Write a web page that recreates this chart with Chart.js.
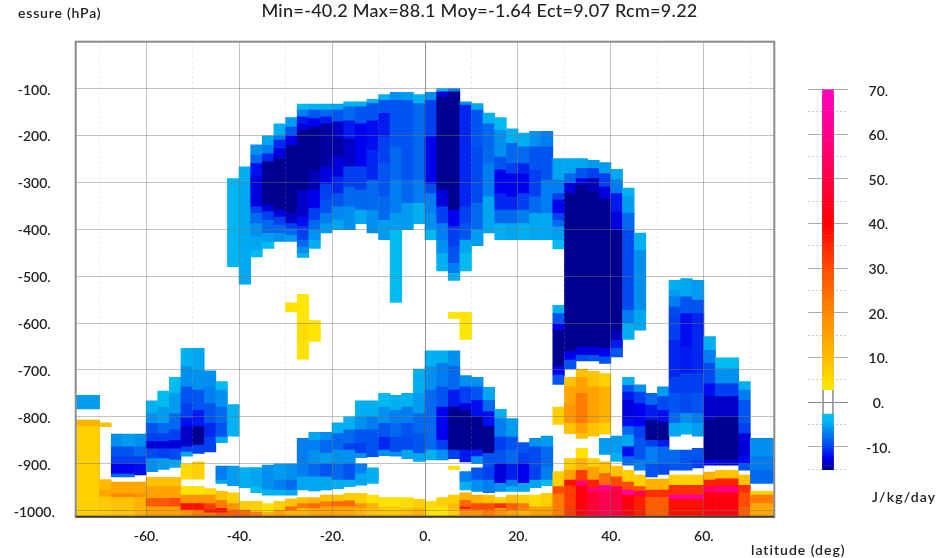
<!DOCTYPE html>
<html>
<head>
<meta charset="utf-8">
<title>Min/Max cross-section</title>
<script src="https://cdn.jsdelivr.net/npm/chart.js@4"></script>
<style>
  html, body { margin: 0; padding: 0; background: #fff; }
  #wrap { position: relative; width: 939px; height: 558px; overflow: hidden; }
  canvas { position: absolute; top: 0; }
  #main-chart { left: 0; }
  #color-bar { left: 790px; }
</style>
</head>
<body>
<div id="wrap">
  <canvas id="main-chart" width="939" height="558"></canvas>
  <canvas id="color-bar" width="149" height="558"></canvas>
</div>
<script>
const titleText = "Min=-40.2 Max=88.1 Moy=-1.64 Ect=9.07 Rcm=9.22";
const yAxisLabel = "essure (hPa)";
const xAxisLabel = "latitude (deg)";
const unitLabel = "J/kg/day";

// west edge of every 2.5 degree column
const latitudes = [
  -75, -72.5, -70, -67.5, -65, -62.5, -60, -57.5, -55, -52.5, -50, -47.5, -45, -42.5, -40,
  -37.5, -35, -32.5, -30, -27.5, -25, -22.5, -20, -17.5, -15, -12.5, -10, -7.5, -5, -2.5,
  0, 2.5, 5, 7.5, 10, 12.5, 15, 17.5, 20, 22.5, 25, 27.5, 30, 32.5, 35,
  37.5, 40, 42.5, 45, 47.5, 50, 52.5, 55, 57.5, 60, 62.5, 65, 67.5, 70, 72.5
];

// one list per column, read downwards: pressure, value, pressure, value, ... pressure
// null means nothing is painted until the next pressure
const profiles = [
  [754,-5.5,783,null,807,12,821,7,1013],
  [754,-5.5,783,null,807,12,821,7,1013],
  [813,9,821,null,934,10.5,956,14,971,8,1013],
  [837,-6,864,-9,885,-10,900,-12.5,922,-8,928,null,939,14,964,20,972,9,1013],
  [837,-5.5,864,-9,885,-10,900,-12.5,922,-8,928,null,939,14,964,20,972,9,1013],
  [837,-6,864,-8,885,-10,900,-12,924,null,939,14,964,18,972,12,1013],
  [766,-4.5,793,-6,814,-9,836,-10,853,-13,868,-9.5,889,-6,917,null,929,9,949,15,974,27,992,15,1013],
  [745,-4,779,-5.5,814,-8,836,-10,853,-13,868,-10,889,-5.5,912,null,929,9,949,15,974,28,992,15,1013],
  [716,-4,750,-5.5,793,-8,828,-10,850,-13,868,-9.5,892,-5,908,null,929,9,949,15,974,30,992,15,1013],
  [654,-4.5,693,-6,736,-9,772,-10,804,-12,821,-13.5,864,-10,875,-5,884,null,901,5,933,null,948,4,967,18,985,38,999,18,1013],
  [654,-5,701,-6,743,-9,786,-11.5,821,-15,860,-10,878,null,896,7,933,null,948,4,967,18,985,38,999,22,1013],
  [702,-6,736,-7,772,-9,814,-11,843,-10,875,null,953,5,967,18,985,32,999,38,1005,22,1013],
  [725,-4,743,-6,779,-8,814,-9,843,-5,855,null,905,-7,935,-5,942,null,959,9,978,22,995,38,1005,27,1013],
  [292,-4.2,480,null,774,-4.5,841,null,905,-5.5,947,null,962,7,985,18,999,27,1013],
  [267,-4.5,300,-5,440,-4.8,517,null,908,-4.5,951,null,980,7,999,25,1013],
  [220,-6,242,-8,260,-12,288,-13,352,-10,366,-8,388,-6,416,-5,445,-4,459,null,908,-5,949,-4,962,null,980,7,1003,22,1013],
  [201,-5,221,-7,239,-11,256,-15,349,-13,363,-10,381,-8,409,-5.5,427,-4,441,null,903,-6,956,-4.5,967,null,985,4,1003,12,1013],
  [175,-4.5,200,-7,210,-11,228,-13,249,-15,359,-13,374,-10,391,-8,409,-6,426,null,900,-5.5,935,-7,956,-4.5,967,null,980,7,999,15,1013],
  [162,-5.5,182,-9,200,-12.5,221,-15,366,-13.5,388,-10,399,-8,413,-5.5,426,null,557,4,576,null,900,-6,935,-8,956,-5,967,null,975,9,992,25,1000,12,1013],
  [133,-4,146,-7,160,-11.5,175,-13,189,-15,317,-13.5,374,-12,395,-10,423,-8,438,-6,452,-4.5,460,null,539,3.5,600,5,637,4,677,null,846,-7,928,-5,956,null,972,9,985,22,995,12,1013],
  [133,-4.5,146,-9,164,-12.5,182,-15,274,-14,317,-12.5,356,-10,381,-8,402,-6,423,-4.5,441,null,595,3.5,639,null,833,-5,850,-7,871,-6,900,-8,928,-5,958,null,972,12,985,25,995,14,1013],
  [133,-4.5,146,-8,160,-11.5,175,-14.5,267,-13,303,-10,338,-9,366,-7,388,-5.5,408,null,833,-6,850,-8,878,-5.5,900,-9,928,-5,956,null,967,9,981,22,992,15,1013],
  [133,-5,146,-9,171,-13.5,207,-14.5,246,-13,288,-11,324,-9,352,-6.5,381,-5,401,null,813,-4.5,836,-8,871,-6,900,-8,935,-4.5,953,null,967,9,981,25,992,15,1013],
  [128,-4.5,139,-8,168,-11.5,207,-13.5,267,-10,310,-8,352,-6,401,null,800,-4.5,828,-8,857,-10,871,-6,900,-9,935,-4.5,949,null,963,7,979,25,992,14,1013],
  [128,-4.5,139,-9,175,-12.5,267,-10,317,-8,359,-5,388,null,766,-4.5,800,-6,828,-9,857,-10,878,-6,887,null,900,-7,921,-5,946,null,963,7,985,18,995,12,1013],
  [123,-4.5,132,-9,168,-12,231,-11,295,-8,359,-6,408,null,766,-4.5,800,-7,828,-9,885,null,909,-4.5,942,null,967,4,985,12,999,9,1013],
  [113,-4.5,125,-9,153,-11.5,203,-10,260,-9,331,-8,381,-5.5,422,null,750,-4,779,-6,814,-9,843,-11,871,-6,883,null,972,4,992,8,1013],
  [108,-6,125,-9,224,-8,295,-7,366,-5.5,402,-4,556,null,754,-4.5,786,-7,814,-8,843,-9.5,875,-6,884,null,972,4,992,8,1013],
  [108,-5.5,125,-9,295,-8,345,-5.5,401,null,750,-4.5,779,-7,814,-9,843,-9.5,871,-5,889,null,972,5,995,9,1013],
  [113,-4.5,132,-8,295,-7,345,-4.5,388,null,698,-4.5,750,-5.5,793,-8,836,-9,878,-5,895,null,976,7,995,12,1013],
  [108,-6,125,-10,203,-12.5,303,-9.5,324,-7,366,-6,402,-4,422,null,659,-4.5,693,-6,743,-8,871,-4.5,892,null,980,5,999,4,1013],
  [100,-4.5,107,-13,118,-15,317,-13,352,-10,388,-7,423,-6,452,-4.5,489,null,659,-4.5,686,-7,736,-9,779,-12.5,850,-10,871,-6,892,null,972,7,992,4,1013],
  [100,-7,107,-15,359,-12.5,395,-10,438,-9,473,-7,494,-4.5,509,null,577,3.5,590,null,659,-6,693,-8,743,-11.5,779,-15,871,-10,889,null,905,4,912,null,967,7,985,10,999,7,1013],
  [128,-6,135,-11,352,-10,388,-9,423,-5,452,-4,489,null,577,3.5,635,null,712,-6,736,-10,772,-13,786,-15,871,-11.5,896,null,917,-7,939,-4.5,956,null,962,12,978,25,992,36,998,18,1013],
  [132,-5,146,-9,224,-9.5,345,-8,402,-5.5,435,null,716,-6,736,-9,765,-12,800,-15,871,-11.5,885,-6,900,null,909,-9,935,-6,959,null,967,12,985,30,999,18,1013],
  [152,-4.5,175,-8,260,-7,331,-5,408,null,737,-5,765,-8,789,-12,821,-15,878,-9,907,-10,935,-7,962,null,967,9,985,30,999,22,1013],
  [162,-4,189,-6,246,-9,274,-12.5,324,-11,359,-8,388,-4.5,422,null,784,-4.5,804,-7,843,-10,871,-9,900,-13,942,-6,959,null,972,7,985,34,995,18,1013],
  [186,-4.5,217,-8,260,-10,281,-12.5,331,-11,359,-8,388,-5,422,null,804,-5.5,843,-9,871,-8,900,-11.5,935,-7,949,-4.5,959,null,967,9,985,27,999,15,1013],
  [195,-4.5,224,-8,260,-11,281,-12.5,324,-10,359,-7,388,-4.5,422,null,855,-9,878,-10,900,-12.5,942,-5,959,null,967,7,985,22,999,12,1013],
  [191,-6,224,-9,274,-10,331,-8,366,-5,422,null,846,-6,864,-9.5,907,-10,935,-5,951,null,967,5,992,15,1013],
  [191,-7,224,-9,295,-7,366,-5,422,null,841,-5.5,864,-8,907,-7,935,-4,947,null,963,7,992,15,1013],
  [249,-5,295,-7,324,-10,338,-12.5,366,-10,381,-8,395,-5.5,423,-4,442,null,562,-4.5,580,-9,601,-12.5,615,-15,693,-12.5,711,-9,731,null,779,7,816,null,917,7,949,30,965,22,1013],
  [249,-5,281,-8,302,-13,324,-15,661,-12.5,679,-9,698,null,716,9,736,14,772,17,814,9,836,null,889,7,914,15,935,38,947,32,1013],
  [249,-5,270,-9,292,-13,306,-15,651,-13,669,-9.5,681,null,698,9,716,15,750,22,814,15,836,9,846,null,867,4,889,12,914,32,937,58,947,42,1013],
  [253,-5.5,270,-10,292,-14,320,-15,651,-13,669,-9,681,null,703,9,736,15,814,9,841,null,889,7,907,15,935,36,951,58,960,48,1013],
  [258,-5.5,281,-10,310,-13,335,-15,654,-12.5,672,-9,686,null,708,7,736,12,814,7,837,null,846,-5.5,880,null,896,9,921,25,946,62,958,52,1013],
  [272,-5,295,-7,324,-11.5,363,-13,402,-15,615,-14,637,-11.5,654,-9,672,null,841,-5.5,878,-4.5,895,null,905,9,928,30,949,52,960,50,1013],
  [312,-4.5,331,-5.5,366,-8,402,-9.5,573,-7,601,-4.5,635,null,716,-4.5,733,-9,747,-11.5,765,-13,804,-12,821,-8,839,-5,864,-12,885,-8,903,null,914,7,939,30,956,64,967,42,1013],
  [408,-4.5,445,-6,573,-5,615,null,732,-6,747,-10,772,-12.5,821,-10,846,-9,892,-7,914,null,924,7,949,30,959,52,969,36,1013],
  [750,-8,775,-11.5,807,-15,850,-10,864,-7,900,-9,928,null,933,12,956,34,972,27,1013],
  [736,-5.5,757,-9.5,786,-12,811,-15,850,-11.5,864,-8,900,-9.5,923,null,933,12,956,34,972,27,1013],
  [509,-4.5,530,-5.5,544,-7,566,-9.5,587,-10,637,-11,715,-10,750,-9,793,-8,814,-5,841,null,871,-8,900,-9,914,null,924,7,946,34,967,64,976,38,1013],
  [505,-5,544,-9,580,-12,651,-11.5,708,-10,750,-9.5,793,-6,814,-4.5,837,null,871,-9,914,null,924,7,946,34,967,64,976,38,1013],
  [509,-5.5,551,-9,580,-11,708,-10,750,-9,793,-7,814,-5.5,841,null,867,-9,892,-10,909,null,924,7,946,34,967,64,976,38,1013],
  [629,-4.5,658,-7,686,-9.5,729,-12,757,-13.5,807,-15,892,-12.5,903,null,918,12,935,36,949,55,962,42,1013],
  [674,-4,697,-6,729,-10,757,-13.5,800,-15,892,-13,903,null,914,9,932,36,948,58,962,42,1013],
  [674,-4,697,-6,729,-10,757,-13.5,800,-15,892,-13,903,null,914,9,932,36,948,58,962,42,1013],
  [725,-4.5,743,-7,765,-9,814,-10,836,-13,885,-12,900,-9,914,null,924,9,946,34,962,30,992,27,1013],
  [846,-6,885,-7,914,-8,942,null,959,7,967,22,985,14,1013],
  [846,-6,885,-7,914,-8,942,null,959,7,967,22,985,14,1013]
];

// colour table of the side bar
const stopValues = [-15.2, -12.5, -10, -4, -3, 3, 10, 20, 30, 40, 50, 60, 70];
const stopColors = [
  [0, 0, 136], [0, 0, 240], [0, 64, 240], [0, 186, 240], [0, 190, 240],
  [255, 232, 0], [255, 188, 0], [255, 136, 0], [255, 76, 0], [255, 0, 0],
  [255, 0, 68], [255, 0, 136], [255, 0, 192]
];
const barMin = -15.2;
const barMax = 70;
const whiteBelow = 3;
const whiteAbove = -3;

const fontFamily = "Lato, 'Open Sans', sans-serif";
const textColor = "#222";

function colorFor(v) {
  let i = 0;
  while (i < stopValues.length - 2 && v > stopValues[i + 1]) i++;
  const t = Math.min(1, Math.max(0, (v - stopValues[i]) / (stopValues[i + 1] - stopValues[i])));
  const c = stopColors[i].map((a, k) => Math.round(a + (stopColors[i + 1][k] - a) * t));
  return `rgb(${c[0]},${c[1]},${c[2]})`;
}

// turn the column lists into floating bars
function buildCells() {
  const cells = [];
  profiles.forEach((list, col) => {
    for (let k = 0; k + 2 < list.length; k += 2) {
      if (list[k + 1] === null) continue;
      cells.push({ x: latitudes[col] + 1.25, y: [list[k], list[k + 2]], v: list[k + 1] });
    }
  });
  return cells;
}

// tick value from a scriptable context, the scale also asks without a tick
const tickValue = (c) => (c.tick ? c.tick.value : 0);

// plain text around the plot
const textLabels = {
  id: "textLabels",
  afterDraw(chart, args, opts) {
    const ctx = chart.ctx;
    ctx.save();
    ctx.fillStyle = textColor;
    ctx.textBaseline = "middle";
    opts.items.forEach((item) => {
      ctx.font = item.font;
      ctx.letterSpacing = item.spacing;
      ctx.textAlign = item.align;
      ctx.fillText(item.text, item.x, item.y);
    });
    ctx.restore();
  },
};

// grey box round the plot
const plotFrame = {
  id: "plotFrame",
  afterDraw(chart) {
    const { ctx, chartArea: a } = chart;
    ctx.save();
    ctx.strokeStyle = "#8c8c8c";
    ctx.lineWidth = 2;
    ctx.strokeRect(a.left, a.top, a.right - a.left, a.bottom - a.top);
    ctx.strokeStyle = "#4a4030";
    ctx.beginPath();
    ctx.moveTo(a.left, a.bottom);
    ctx.lineTo(a.right, a.bottom);
    ctx.stroke();
    ctx.restore();
  },
};

new Chart(document.getElementById("main-chart"), {
  type: "bar",
  data: {
    datasets: [{
      data: buildCells(),
      backgroundColor: (c) => (c.raw ? colorFor(c.raw.v) : "transparent"),
      borderWidth: 0,
      grouped: false,
      barPercentage: 1,
      categoryPercentage: 1,
    }],
  },
  plugins: [textLabels, plotFrame],
  options: {
    responsive: false,
    animation: false,
    layout: { padding: { left: 0, top: 41.7, right: 164.7, bottom: 0 } },
    plugins: {
      legend: { display: false },
      tooltip: { enabled: false },
      textLabels: {
        items: [
          { text: titleText, x: 479.5, y: 11, align: "center", spacing: "0.3px", font: `500 18px ${fontFamily}` },
          { text: yAxisLabel, x: 18, y: 13, align: "left", spacing: "0.8px", font: `600 14px ${fontFamily}` },
          { text: xAxisLabel, x: 751, y: 550, align: "left", spacing: "1px", font: `600 14px ${fontFamily}` },
          { text: unitLabel, x: 872, y: 497, align: "left", spacing: "1.2px", font: `600 14px ${fontFamily}` },
        ],
      },
    },
    scales: {
      x: {
        type: "linear",
        min: -75.15,
        max: 75.15,
        offset: false,
        afterFit: (s) => { s.height = 41.3; },
        border: { display: false, dash: (c) => (tickValue(c) % 20 !== 0 ? [2, 3] : []) },
        grid: {
          z: 1,
          offset: false,
          drawTicks: false,
          color: (c) => {
            const v = tickValue(c);
            if (v === 0) return "rgba(90,90,90,0.65)";
            return v % 20 === 0 ? "rgba(120,120,120,0.45)" : "rgba(160,160,160,0.25)";
          },
        },
        ticks: {
          stepSize: 10,
          includeBounds: false,
          autoSkip: false,
          maxRotation: 0,
          padding: 11,
          color: textColor,
          font: { family: fontFamily, size: 14, weight: 600 },
          callback: (v) => (v % 20 === 0 ? v + "." : ""),
        },
      },
      y: {
        type: "linear",
        reverse: true,
        min: 0,
        max: 1013,
        afterFit: (s) => { s.width = 75.7; },
        border: { display: false },
        grid: {
          z: 1,
          drawTicks: false,
          color: (c) => (tickValue(c) === 0 ? "transparent" : "rgba(120,120,120,0.45)"),
        },
        ticks: {
          stepSize: 100,
          includeBounds: false,
          crossAlign: "center",
          padding: 21,
          labelOffset: 1.5,
          color: textColor,
          font: { family: fontFamily, size: 14, weight: 600 },
          callback: (v) => (v === 0 ? "" : "-" + v + "."),
        },
      },
    },
  },
});

// side colour bar, one unit per slice, white round zero
const barSlices = [];
for (let l = barMin; l < barMax; l += 0.5) {
  const top = Math.min(l + 0.5, barMax);
  if (l >= whiteAbove - 0.01 && top <= whiteBelow + 0.01) continue;
  barSlices.push({ x: 0.5, y: [l, top], v: (l + top) / 2 });
}

new Chart(document.getElementById("color-bar"), {
  type: "bar",
  data: {
    datasets: [
      {
        data: barSlices,
        backgroundColor: (c) => (c.raw ? colorFor(c.raw.v) : "transparent"),
        borderWidth: 0,
        barThickness: 11,
        grouped: false,
      },
      {
        data: [{ x: 0.5, y: [barMin, barMax] }],
        backgroundColor: "transparent",
        borderColor: "#8c8c8c",
        borderWidth: 1,
        borderSkipped: false,
        barThickness: 11,
        grouped: false,
      },
    ],
  },
  options: {
    responsive: false,
    animation: false,
    layout: { padding: { left: 18, top: 89.5, right: 0, bottom: 88 } },
    plugins: { legend: { display: false }, tooltip: { enabled: false } },
    scales: {
      x: { type: "linear", min: 0, max: 1, display: false, offset: false },
      y: {
        type: "linear",
        position: "right",
        min: barMin,
        max: barMax,
        afterFit: (s) => { s.width = 91; },
        border: { display: false, dash: (c) => (tickValue(c) % 10 !== 0 ? [2, 2] : []) },
        grid: {
          drawTicks: false,
          color: (c) => {
            const v = tickValue(c);
            if (v === 0) return "#888";
            return v % 10 === 0 ? "#aaa" : "#ccc";
          },
        },
        ticks: {
          stepSize: 5,
          includeBounds: false,
          autoSkip: false,
          crossAlign: "center",
          padding: 18,
          labelOffset: 1.5,
          color: textColor,
          font: { family: fontFamily, size: 14, weight: 600 },
          callback: (v) => (v % 10 === 0 ? v + "." : ""),
        },
      },
    },
  },
});
</script>
</body>
</html>
